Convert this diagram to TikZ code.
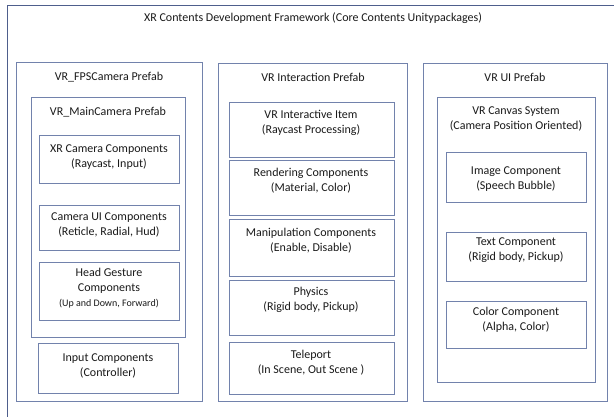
\documentclass[tikz,border=0pt]{standalone}
\usepackage{fontspec}
\setmainfont{Carlito}
\usetikzlibrary{fit}
\definecolor{frame}{HTML}{7282AC}
\definecolor{outer}{HTML}{4E5E8C}
\definecolor{txt}{HTML}{1A1A1A}
\tikzset{
  box/.style={draw=frame, line width=0.6pt, inner sep=0pt},
  lbl/.style={font=\fontsize{12}{15}\selectfont, text=txt, align=center, inner sep=0pt}
}
\newcommand\mkbox[5]{%
  \node[box, fit={(#2,#3) (#4,#5)}] (#1) {};}
\begin{document}
\begin{tikzpicture}[x=1pt,y=-1pt]
\useasboundingbox (0,0) rectangle (614,417);
\fill[white] (0,0) rectangle (614,417);
\begin{scope}
\clip (0,0) rectangle (614,417);
\draw[outer, line width=0.8pt] (7,5) rectangle (640,440);
\end{scope}
\node[lbl] (title) at (313,18) {XR Contents Development Framework (Core Contents Unitypackages)};
% column 1
\mkbox{c1}{16}{62}{202}{401}
\node[lbl] (c1t) at (109,77) {VR\_FPSCamera Prefab};
\mkbox{mc}{31}{97}{185}{337}
\node[lbl] (mct) at (108,112) {VR\_MainCamera Prefab};
\mkbox{xr}{39}{135}{179}{183}
\node[lbl] at (109,157) {XR Camera Components\\(Raycast, Input)};
\mkbox{cu}{39}{205}{179}{250}
\node[lbl] at (109,225) {Camera UI Components\\(Reticle, Radial, Hud)};
\mkbox{hg}{39}{262}{179}{320}
\node[lbl] at (109,288) {Head Gesture\\Components\\{\fontsize{10}{15}\selectfont(Up and Down, Forward)}};
\mkbox{ic}{38}{343}{178}{393}
\node[lbl] at (108,365.5) {Input Components\\(Controller)};
% column 2
\mkbox{c2}{218}{63}{407}{401}
\node[lbl] (c2t) at (313,77) {VR Interaction Prefab};
\mkbox{ii}{229}{102}{394}{157}
\node[lbl] at (311,122.5) {VR Interactive Item\\(Raycast Processing)};
\mkbox{rc}{229}{160}{394}{215}
\node[lbl] at (311,180.5) {Rendering Components\\(Material, Color)};
\mkbox{mp}{229}{219}{394}{276}
\node[lbl] at (311,240.5) {Manipulation Components\\(Enable, Disable)};
\mkbox{ph}{229}{280}{394}{335}
\node[lbl] at (311,299.5) {Physics\\(Rigid body, Pickup)};
\mkbox{tp}{229}{342}{394}{394}
\node[lbl] at (311,362.5) {Teleport\\(In Scene, Out Scene )};
% column 3
\mkbox{c3}{423}{63}{607}{401}
\node[lbl] (c3t) at (515,77) {VR UI Prefab};
\mkbox{cv}{437}{97}{595}{382}
\node[lbl] at (516,119) {VR Canvas System\\(Camera Position Oriented)};
\mkbox{im}{446}{152}{586}{202}
\node[lbl] at (516,179.5) {Image Component\\(Speech Bubble)};
\mkbox{tc}{446}{232}{586}{281}
\node[lbl] at (516,250.5) {Text Component\\(Rigid body, Pickup)};
\mkbox{cc}{446}{301}{586}{348}
\node[lbl] at (516,320) {Color Component\\(Alpha, Color)};
\end{tikzpicture}
\end{document}
